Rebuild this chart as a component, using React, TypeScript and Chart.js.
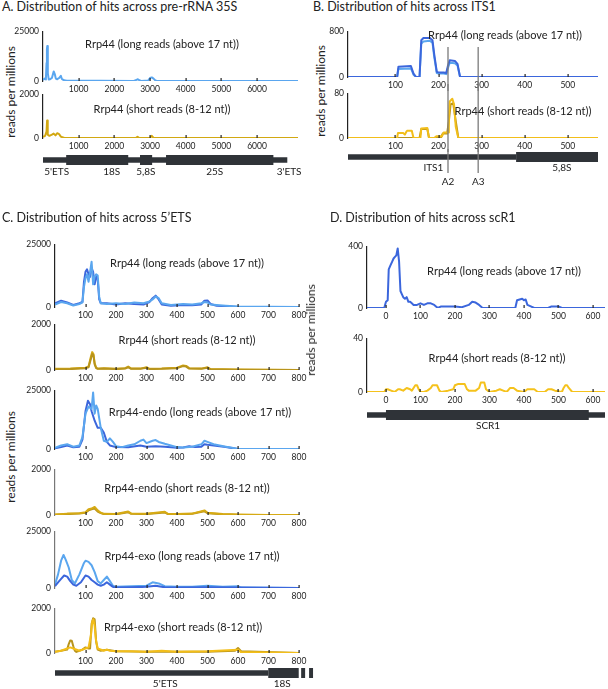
import React, { useEffect, useRef } from "react";
import { Chart, registerables } from "chart.js";
Chart.register(...registerables);

const FONT = "Lato, 'Open Sans', sans-serif";
const L = 40, T = 8, R = 14, B = 14;

// ---------- tick labels ----------
const A_TICKS = [1000, 2000, 3000, 4000, 5000, 6000];
const B_TICKS = [100, 200, 300, 400, 500];
const C_TICKS = [100, 200, 300, 400, 500, 600, 700, 800];
const D_TICKS = [0, 100, 200, 300, 400, 500, 600];

// ---------- Panel A: pre-rRNA 35S ----------
const A_LONG_X = [0, 40, 80, 100, 110, 120, 130, 140, 160, 200, 250, 300, 330, 360, 400, 450, 500, 530, 560, 600, 650, 2550, 2620, 2660, 2700, 2750, 2950, 3000, 3050, 3100, 3150, 3200, 7150];
const A_LONG_Y = [500, 1200, 800, 9000, 16000, 17500, 12000, 4000, 800, 900, 1500, 4800, 3500, 1200, 900, 1500, 2600, 1000, 600, 400, 200, 0, 600, 900, 400, 0, 200, 1500, 1800, 1200, 300, 0, 0];
const A_SHORT_X = [0, 60, 100, 115, 125, 140, 180, 250, 300, 350, 400, 450, 500, 600, 2600, 2650, 2700, 3000, 3050, 3100, 7150];
const A_SHORT_Y = [50, 100, 300, 800, 500, 150, 100, 150, 200, 120, 220, 180, 60, 0, 0, 60, 0, 0, 100, 0, 0];
const A_GENE_THIN = [0, 6850];
const A_GENE_THICK = [[650, 2390], [2720, 3060], [3450, 6460]];
const A_GENE_LABELS = ["5'ETS", "18S", "5,8S", "25S", "3'ETS"];
const A_GENE_LABEL_POS = [382, 1927, 2882, 4815, 6900];

// ---------- Panel B: ITS1 ----------
const B_LONG_DARK_X = [-10, 104, 107, 136, 142, 148, 156, 160, 165, 180, 186, 190, 196, 200, 212, 218, 222, 226, 238, 244, 250, 570];
const B_LONG_DARK_Y = [0, 0, 180, 190, 60, 0, 0, 640, 680, 680, 640, 400, 90, 80, 80, 70, 200, 290, 280, 230, 0, 0];
const B_LONG_LIGHT_X = [-10, 104, 107, 136, 142, 148, 156, 160, 165, 180, 186, 190, 196, 200, 212, 218, 222, 226, 238, 244, 250, 570];
const B_LONG_LIGHT_Y = [0, 0, 140, 150, 40, 0, 0, 580, 620, 630, 600, 350, 70, 60, 60, 50, 160, 250, 240, 200, 0, 0];
const B_SHORT_LIGHT_X = [-10, 104, 106, 118, 122, 126, 128, 138, 142, 158, 160, 174, 178, 190, 195, 208, 212, 222, 224, 226, 232, 236, 240, 246, 570];
const B_SHORT_LIGHT_Y = [0, 0, 9, 9, 6, 12, 13, 13, 0, 0, 17, 18, 0, 0, 3, 3, 10, 10, 40, 65, 70, 60, 20, 0, 0];
const B_SHORT_DARK_X = [-10, 156, 160, 174, 178, 205, 210, 220, 224, 228, 234, 240, 246, 570];
const B_SHORT_DARK_Y = [0, 0, 16, 16, 0, 0, 8, 8, 30, 60, 62, 30, 0, 0];
const B_SITES = [222, 292];
const B_SITE_LABELS = ["A2", "A3"];
const B_GENE_THIN = [-10, 380];
const B_GENE_THICK = [[380, 570]];
const B_GENE_LABELS = ["ITS1", "5,8S"];
const B_GENE_LABEL_POS = [188, 486];

// ---------- Panel C: 5'ETS ----------
const C1_DARK_X = [0, 20, 40, 60, 80, 90, 95, 100, 105, 110, 115, 120, 125, 130, 135, 140, 145, 150, 170, 200, 230, 260, 290, 310, 320, 330, 340, 350, 380, 420, 450, 480, 490, 500, 510, 530, 560, 600, 800];
const C1_DARK_Y = [1500, 2500, 1800, 800, 1500, 2000, 10000, 14000, 15000, 13000, 12000, 15500, 14000, 9000, 12000, 11000, 3000, 1500, 1500, 1000, 1500, 1200, 1000, 2000, 3500, 4500, 3000, 1000, 500, 800, 700, 1000, 2500, 2600, 1200, 500, 300, 0, 0];
const C1_LIGHT_X = [0, 20, 40, 60, 80, 90, 95, 100, 105, 110, 115, 120, 125, 130, 135, 140, 145, 150, 170, 200, 230, 260, 290, 310, 320, 330, 340, 350, 380, 420, 450, 480, 490, 500, 510, 530, 560, 600, 800];
const C1_LIGHT_Y = [1000, 2000, 1500, 600, 1200, 1800, 8000, 11500, 13000, 10000, 14000, 18000, 9000, 12000, 13000, 12500, 4000, 1500, 1200, 1500, 1200, 1800, 1500, 2200, 3000, 4200, 3500, 1500, 800, 1200, 1000, 1500, 2000, 1800, 1000, 800, 500, 200, 0];
const C2_X = [0, 50, 100, 110, 118, 122, 126, 130, 135, 140, 160, 200, 230, 240, 250, 280, 300, 310, 350, 400, 420, 430, 440, 480, 500, 510, 550, 600, 800];
const C2_Y = [50, 60, 100, 150, 600, 780, 700, 300, 100, 60, 80, 50, 80, 150, 60, 60, 120, 50, 60, 100, 200, 180, 80, 60, 120, 40, 30, 20, 0];
const C2_DARK_Y = [30, 40, 80, 120, 500, 700, 650, 250, 80, 50, 60, 40, 60, 120, 50, 50, 100, 40, 50, 80, 170, 150, 60, 50, 100, 30, 20, 10, 0];
const C3_LIGHT_X = [0, 20, 40, 60, 80, 90, 100, 110, 120, 125, 130, 135, 140, 150, 160, 170, 180, 190, 200, 220, 240, 260, 280, 290, 300, 320, 330, 340, 360, 380, 400, 420, 450, 480, 490, 500, 520, 540, 560, 580, 600, 800];
const C3_LIGHT_Y = [500, 1500, 2000, 1000, 1500, 5000, 15000, 18000, 17000, 24000, 15000, 18500, 17000, 9000, 3500, 3000, 4500, 3000, 1200, 800, 1500, 2000, 3500, 4000, 2500, 3500, 3800, 3000, 2200, 1500, 800, 600, 1000, 2000, 3500, 3000, 2000, 1500, 1000, 500, 0, 0];
const C3_DARK_X = [0, 20, 40, 60, 80, 90, 100, 108, 115, 120, 130, 140, 150, 160, 170, 180, 200, 240, 280, 300, 330, 360, 400, 420, 440, 460, 480, 490, 500, 520, 560, 600, 800];
const C3_DARK_Y = [300, 800, 1500, 700, 1000, 4000, 16000, 20500, 19000, 16000, 12000, 9000, 9000, 7000, 3000, 1500, 800, 700, 1500, 1000, 1200, 1000, 500, 600, 1200, 800, 1000, 2000, 1800, 1500, 800, 0, 0];
const C4_X = [0, 40, 80, 100, 110, 120, 130, 140, 150, 160, 200, 240, 250, 300, 360, 370, 400, 450, 490, 500, 550, 600, 700, 800];
const C4_Y = [20, 60, 80, 120, 250, 280, 350, 200, 100, 50, 40, 150, 60, 50, 140, 50, 40, 60, 200, 100, 40, 20, 0, 0];
const C4_DARK_Y = [10, 40, 60, 100, 200, 250, 280, 150, 80, 40, 30, 120, 50, 40, 110, 40, 30, 50, 160, 80, 30, 10, 0, 0];
const C5_LIGHT_X = [0, 10, 20, 28, 35, 45, 55, 65, 80, 95, 100, 110, 120, 130, 140, 150, 160, 170, 180, 190, 200, 250, 300, 320, 340, 360, 400, 450, 500, 550, 600, 610, 800];
const C5_LIGHT_Y = [1500, 6000, 12000, 14500, 12500, 9000, 3500, 2000, 6000, 11000, 12000, 11500, 10000, 7000, 3000, 2000, 3500, 5000, 3000, 1000, 500, 800, 1000, 2500, 2000, 800, 500, 600, 1000, 500, 800, 200, 0];
const C5_DARK_X = [0, 10, 20, 30, 40, 50, 60, 70, 85, 95, 100, 110, 120, 130, 140, 150, 160, 170, 180, 190, 200, 250, 300, 330, 360, 400, 500, 600, 800];
const C5_DARK_Y = [800, 2500, 4000, 5500, 5000, 3000, 1500, 1000, 2500, 4500, 5500, 5000, 3500, 2500, 1500, 1000, 1500, 2500, 1500, 500, 200, 300, 500, 1000, 300, 200, 300, 200, 0];
const C6_DARK_X = [0, 20, 40, 45, 50, 55, 60, 65, 70, 80, 90, 100, 110, 115, 120, 125, 130, 135, 140, 150, 170, 200, 300, 400, 500, 590, 600, 610, 800];
const C6_DARK_Y = [50, 100, 150, 400, 560, 550, 300, 100, 50, 100, 150, 250, 200, 200, 1300, 1550, 1500, 500, 150, 100, 150, 80, 60, 60, 60, 100, 220, 80, 0];
const C6_LIGHT_X = [0, 20, 40, 50, 60, 80, 100, 110, 118, 122, 126, 130, 134, 140, 160, 170, 180, 200, 250, 300, 350, 400, 500, 600, 610, 800];
const C6_LIGHT_Y = [50, 100, 200, 250, 200, 100, 200, 250, 800, 1400, 1500, 1200, 600, 200, 100, 150, 100, 80, 80, 60, 100, 60, 80, 150, 40, 0];
const C_GENE_THIN = [0, 700];
const C_GENE_THICK = [[700, 800], [808, 821], [834, 847]];
const C_GENE_LABELS = ["5'ETS", "18S"];
const C_GENE_LABEL_POS = [362, 746];

// ---------- Panel D: scR1 ----------
const D_LONG_X = [-55, -5, 0, 5, 8, 12, 18, 22, 26, 30, 34, 38, 42, 46, 50, 55, 60, 65, 70, 75, 80, 90, 100, 110, 120, 130, 140, 150, 160, 180, 200, 220, 240, 250, 260, 270, 280, 300, 360, 375, 380, 395, 400, 405, 410, 420, 430, 470, 480, 500, 510, 635];
const D_LONG_Y = [0, 0, 40, 50, 250, 270, 300, 320, 330, 340, 385, 300, 110, 90, 70, 60, 70, 40, 40, 30, 20, 20, 30, 20, 30, 30, 20, 0, 10, 10, 10, 5, 20, 40, 35, 20, 0, 0, 0, 0, 50, 60, 50, 55, 20, 10, 0, 0, 10, 10, 0, 0];
const D_SHORT_X = [-55, -5, 0, 5, 15, 25, 35, 40, 50, 60, 70, 75, 80, 85, 90, 95, 100, 110, 120, 130, 135, 140, 148, 155, 160, 180, 195, 200, 210, 220, 228, 235, 240, 260, 270, 275, 280, 285, 290, 300, 320, 330, 340, 350, 360, 365, 370, 380, 400, 410, 420, 430, 440, 460, 470, 480, 490, 510, 515, 520, 525, 530, 540, 560, 635];
const D_SHORT_Y = [0, 0, 2, 2, 1, 0, 2, 2, 1, 3, 2, 1, 3, 5, 5, 2, 0, 0, 1, 3, 5, 5, 5, 1, 0, 1, 2, 5, 6, 6, 6, 2, 1, 1, 3, 7, 7, 7, 2, 0, 1, 2, 1, 0, 3, 3, 3, 1, 0, 2, 2, 2, 0, 0, 2, 2, 1, 0, 3, 5, 5, 3, 0, 0, 0];
const D_GENE_THIN = [-55, 635];
const D_GENE_THICK = [[0, 588]];
const D_GENE_LABELS = ["SCR1"];
const D_GENE_LABEL_POS = [296];

// ---------- colours ----------
const BLUE_D = "#3b66dc";
const BLUE_L = "#5aa6ef";
const GOLD_D = "#b8941c";
const GOLD_L = "#f2be1a";
const GENE = "#2f3338";

type Series = { xs: number[]; ys: number[]; color: string; width?: number };

const zip = (xs: number[], ys: (number | null)[]) => xs.map((x, i) => ({ x, y: ys[i] }));

function Plot(props: {
  x0: number; x1: number; y0: number; y1: number;
  xMin: number; xMax: number; xTicks: number[]; yMax: number;
  series: Series[]; vlines?: number[]; vTop?: number; vBot?: number; axisColor?: string;
}) {
  const { x0, x1, y0, y1, xMin, xMax, xTicks, yMax, series, vlines, vTop, vBot, axisColor } = props;
  const ref = useRef<HTMLCanvasElement>(null);
  const w = Math.round(x1 - x0 + L + R);
  const h = Math.round(y1 - y0 + T + B);
  const left = Math.round(x0 - L);
  const top = Math.round(y0 - T);
  useEffect(() => {
    const tickMarks = {
      id: "tickMarks",
      afterDatasetsDraw(chart: any) {
        const ctx = chart.ctx;
        const xs = chart.scales.x;
        const zy = chart.scales.y.getPixelForValue(0);
        ctx.save();
        ctx.fillStyle = "#222";
        xTicks.forEach((v) => {
          const px = xs.getPixelForValue(v);
          ctx.fillRect(Math.round(px) - 0.5, zy - 3, 1.2, 3);
        });
        ctx.restore();
      },
    };
    const vlinePlugin = {
      id: "vlines",
      afterDraw(chart: any) {
        if (!vlines) return;
        const ctx = chart.ctx;
        const xs = chart.scales.x;
        ctx.save();
        ctx.strokeStyle = "#7a7a7a";
        ctx.lineWidth = 1.3;
        vlines.forEach((v) => {
          const px = xs.getPixelForValue(v);
          ctx.beginPath();
          ctx.moveTo(px, Math.max(0, (vTop ?? 0) - top));
          ctx.lineTo(px, Math.min(h, (vBot ?? 9999) - top));
          ctx.stroke();
        });
        ctx.restore();
      },
    };
    const tickFont = { family: FONT, size: 8.5 };
    const chart = new Chart(ref.current as HTMLCanvasElement, {
      type: "line",
      data: {
        datasets: series.map((s) => ({
          data: zip(s.xs, s.ys),
          borderColor: s.color,
          borderWidth: s.width ?? 2,
          pointRadius: 0,
          fill: false,
          tension: 0,
          borderJoinStyle: "round",
        })),
      },
      options: {
        responsive: false,
        animation: false,
        devicePixelRatio: 1,
        parsing: false,
        layout: { padding: { top: T, right: R, left: 0, bottom: 0 } },
        plugins: { legend: { display: false }, tooltip: { enabled: false } },
        scales: {
          x: {
            type: "linear",
            min: xMin,
            max: xMax,
            afterBuildTicks: (a: any) => { a.ticks = xTicks.map((v) => ({ value: v })); },
            afterFit: (a: any) => { a.height = B; },
            grid: { display: false, drawTicks: false },
            border: { display: false },
            ticks: { font: tickFont, color: "#222", padding: 3, maxRotation: 0, autoSkip: false, callback: (v: any) => String(v) },
          },
          y: {
            type: "linear",
            min: 0,
            max: yMax,
            afterBuildTicks: (a: any) => { a.ticks = [{ value: 0 }, { value: yMax }]; },
            afterFit: (a: any) => { a.width = L; },
            grid: { display: false, drawTicks: false },
            border: { color: axisColor ?? "#222", width: 1.2 },
            ticks: { font: tickFont, color: "#222", padding: 4, callback: (v: any) => String(v) },
          },
        },
      } as any,
      plugins: [tickMarks, vlinePlugin],
    });
    return () => chart.destroy();
  }, []);
  return (
    <canvas
      ref={ref}
      width={w}
      height={h}
      style={{ position: "absolute", left, top, width: w, height: h }}
    />
  );
}

function Gene(props: {
  x0: number; x1: number; y: number; xMin: number; xMax: number;
  thin: number[]; thick: number[][]; labels: string[]; labelPos: number[]; labelDy: number;
  vlines?: number[]; vlineLabels?: string[]; vBot?: number;
}) {
  const { x0, x1, y, xMin, xMax, thin, thick, labels, labelPos, labelDy, vlines, vlineLabels, vBot } = props;
  const ref = useRef<HTMLCanvasElement>(null);
  const H = 44;
  const w = Math.round(x1 - x0 + L + R);
  const left = Math.round(x0 - L);
  const top = Math.round(y - 8);
  useEffect(() => {
    const thickData: { x: number; y: number | null }[] = [];
    thick.forEach(([s, e]) => {
      thickData.push({ x: s, y: 0 }, { x: e, y: 0 }, { x: e, y: null });
    });
    const textPlugin = {
      id: "geneText",
      afterDraw(chart: any) {
        const ctx = chart.ctx;
        const xs = chart.scales.x;
        const zy = chart.scales.y.getPixelForValue(0);
        ctx.save();
        if (vlines) {
          ctx.strokeStyle = "#7a7a7a";
          ctx.lineWidth = 1.3;
          vlines.forEach((v) => {
            const px = xs.getPixelForValue(v);
            ctx.beginPath();
            ctx.moveTo(px, 0);
            ctx.lineTo(px, (vBot ?? 0) - top);
            ctx.stroke();
          });
        }
        ctx.fillStyle = "#222";
        ctx.font = `10px ${FONT}`;
        ctx.textAlign = "center";
        ctx.textBaseline = "middle";
        labels.forEach((t, i) => {
          ctx.fillText(t, xs.getPixelForValue(labelPos[i]), zy + labelDy);
        });
        if (vlines && vlineLabels) {
          vlines.forEach((v, i) => {
            ctx.fillText(vlineLabels[i], xs.getPixelForValue(v), (vBot ?? 0) - top + 9);
          });
        }
        ctx.restore();
      },
    };
    const chart = new Chart(ref.current as HTMLCanvasElement, {
      type: "line",
      data: {
        datasets: [
          { data: thickData, borderColor: GENE, borderWidth: 10, pointRadius: 0, spanGaps: false, borderCapStyle: "butt" },
          { data: [{ x: thin[0], y: 0 }, { x: thin[1], y: 0 }], borderColor: GENE, borderWidth: 5.5, pointRadius: 0, borderCapStyle: "butt" },
        ],
      },
      options: {
        responsive: false,
        animation: false,
        devicePixelRatio: 1,
        parsing: false,
        layout: { padding: { top: 0, right: R, left: L, bottom: 0 } },
        plugins: { legend: { display: false }, tooltip: { enabled: false } },
        scales: {
          x: { type: "linear", min: xMin, max: xMax, display: false },
          y: { type: "linear", min: -(H - 8) / 8, max: 1, display: false },
        },
      } as any,
      plugins: [textPlugin],
    });
    return () => chart.destroy();
  }, []);
  return (
    <canvas
      ref={ref}
      width={w}
      height={H}
      style={{ position: "absolute", left, top, width: w, height: H }}
    />
  );
}

function Txt(props: { x: number; y: number; children: React.ReactNode; size?: number; align?: "left" | "center"; rotate?: boolean }) {
  const { x, y, children, size = 11, align = "center", rotate } = props;
  const tf = rotate
    ? "translate(-50%, -50%) rotate(-90deg)"
    : align === "center" ? "translate(-50%, -50%)" : "translate(0, -50%)";
  return (
    <div
      style={{
        position: "absolute",
        left: x,
        top: y,
        transform: tf,
        whiteSpace: "nowrap",
        fontFamily: FONT,
        fontSize: size,
        color: "#222",
        lineHeight: 1,
      }}
    >
      {children}
    </div>
  );
}

export default function App() {
  const AX0 = 43, AX1 = 298;
  const BX0 = 348, BX1 = 598;
  const CX0 = 55, CX1 = 299;
  const DX0 = 367, DX1 = 605;
  const cGeneMax = C_GENE_THICK[2][1] + 13;
  const cGeneX1 = CX0 + (cGeneMax / 800) * (CX1 - CX0);
  const TS = 12.5, YS = 12;
  return (
    <div style={{ position: "absolute", left: 0, top: 0, width: 608, height: 689, background: "#fff", overflow: "hidden" }}>
      {/* Panel A */}
      <Txt x={2} y={7} size={TS} align="left">A. Distribution of hits across pre-rRNA 35S</Txt>
      <Txt x={11} y={92} size={YS} rotate>reads per millions</Txt>
      <Plot x0={AX0} x1={AX1} y0={30} y1={81} xMin={0} xMax={7150} xTicks={A_TICKS} yMax={25000}
        series={[{ xs: A_LONG_X, ys: A_LONG_Y, color: BLUE_L }]} />
      <Plot x0={AX0} x1={AX1} y0={93} y1={138} xMin={0} xMax={7150} xTicks={A_TICKS} yMax={2000}
        series={[{ xs: A_SHORT_X, ys: A_SHORT_Y, color: "#d2a812" }]} />
      <Txt x={162} y={43}>Rrp44 (long reads (above 17 nt))</Txt>
      <Txt x={162} y={108}>Rrp44 (short reads (8-12 nt))</Txt>
      <Gene x0={AX0} x1={AX1} y={160} xMin={0} xMax={7150} thin={A_GENE_THIN} thick={A_GENE_THICK}
        labels={A_GENE_LABELS} labelPos={A_GENE_LABEL_POS} labelDy={12} />

      {/* Panel B */}
      <Txt x={313} y={7} size={TS} align="left">B. Distribution of hits across ITS1</Txt>
      <Txt x={321} y={91} size={YS} rotate>reads per millions</Txt>
      <Plot x0={BX0} x1={BX1} y0={30} y1={77} xMin={-10} xMax={570} xTicks={B_TICKS} yMax={800}
        series={[{ xs: B_LONG_DARK_X, ys: B_LONG_DARK_Y, color: BLUE_D }, { xs: B_LONG_LIGHT_X, ys: B_LONG_LIGHT_Y, color: BLUE_L }]}
        vlines={B_SITES} vTop={47} vBot={200} />
      <Plot x0={BX0} x1={BX1} y0={92} y1={138} xMin={-10} xMax={570} xTicks={B_TICKS} yMax={80}
        series={[{ xs: B_SHORT_LIGHT_X, ys: B_SHORT_LIGHT_Y, color: GOLD_L }, { xs: B_SHORT_DARK_X, ys: B_SHORT_DARK_Y, color: GOLD_D }]}
        vlines={B_SITES} vTop={0} vBot={200} />
      <Txt x={505} y={34}>Rrp44 (long reads (above 17 nt))</Txt>
      <Txt x={523} y={110}>Rrp44 (short reads (8-12 nt))</Txt>
      <Gene x0={BX0} x1={BX1} y={157} xMin={-10} xMax={570} thin={B_GENE_THIN} thick={B_GENE_THICK}
        labels={B_GENE_LABELS} labelPos={B_GENE_LABEL_POS} labelDy={11}
        vlines={B_SITES} vlineLabels={B_SITE_LABELS} vBot={173} />

      {/* Panel C */}
      <Txt x={2} y={218} size={TS} align="left">C. Distribution of hits across 5’ETS</Txt>
      <Txt x={11} y={457} size={YS} rotate>reads per millions</Txt>
      <Plot x0={CX0} x1={CX1} y0={243} y1={307} xMin={0} xMax={800} xTicks={C_TICKS} yMax={25000}
        series={[{ xs: C1_LIGHT_X, ys: C1_LIGHT_Y, color: BLUE_L }, { xs: C1_DARK_X, ys: C1_DARK_Y, color: BLUE_D }]} />
      <Plot x0={CX0} x1={CX1} y0={323} y1={370} xMin={0} xMax={800} xTicks={C_TICKS} yMax={2000}
        series={[{ xs: C2_X, ys: C2_DARK_Y, color: GOLD_D }, { xs: C2_X, ys: C2_Y, color: "#d6aa14" }]} />
      <Plot x0={CX0} x1={CX1} y0={389} y1={449} xMin={0} xMax={800} xTicks={C_TICKS} yMax={25000}
        series={[{ xs: C3_LIGHT_X, ys: C3_LIGHT_Y, color: BLUE_L }, { xs: C3_DARK_X, ys: C3_DARK_Y, color: BLUE_D }]} />
      <Plot x0={CX0} x1={CX1} y0={468} y1={515} xMin={0} xMax={800} xTicks={C_TICKS} yMax={2000} axisColor="#777"
        series={[{ xs: C4_X, ys: C4_Y, color: "#d6aa14" }, { xs: C4_X, ys: C4_DARK_Y, color: GOLD_D }]} />
      <Plot x0={CX0} x1={CX1} y0={530} y1={588} xMin={0} xMax={800} xTicks={C_TICKS} yMax={25000} axisColor="#777"
        series={[{ xs: C5_DARK_X, ys: C5_DARK_Y, color: BLUE_D }, { xs: C5_LIGHT_X, ys: C5_LIGHT_Y, color: BLUE_L }]} />
      <Plot x0={CX0} x1={CX1} y0={607} y1={653} xMin={0} xMax={800} xTicks={C_TICKS} yMax={2000} axisColor="#777"
        series={[{ xs: C6_LIGHT_X, ys: C6_LIGHT_Y, color: GOLD_L }, { xs: C6_DARK_X, ys: C6_DARK_Y, color: GOLD_D }]} />
      <Txt x={187} y={262}>Rrp44 (long reads (above 17 nt))</Txt>
      <Txt x={187} y={339}>Rrp44 (short reads (8-12 nt))</Txt>
      <Txt x={200} y={411}>Rrp44-endo (long reads (above 17 nt))</Txt>
      <Txt x={187} y={487}>Rrp44-endo (short reads (8-12 nt))</Txt>
      <Txt x={192} y={555}>Rrp44-exo (long reads (above 17 nt))</Txt>
      <Txt x={183} y={626}>Rrp44-exo (short reads (8-12 nt))</Txt>
      <Gene x0={CX0} x1={cGeneX1} y={673} xMin={0} xMax={cGeneMax} thin={C_GENE_THIN} thick={C_GENE_THICK}
        labels={C_GENE_LABELS} labelPos={C_GENE_LABEL_POS} labelDy={11} />

      {/* Panel D */}
      <Txt x={330} y={218} size={TS} align="left">D. Distribution of hits across scR1</Txt>
      <Txt x={311} y={330} size={YS} rotate>reads per millions</Txt>
      <Plot x0={DX0} x1={DX1} y0={245} y1={308} xMin={-55} xMax={635} xTicks={D_TICKS} yMax={400}
        series={[{ xs: D_LONG_X, ys: D_LONG_Y, color: BLUE_D }]} />
      <Plot x0={DX0} x1={DX1} y0={337} y1={392} xMin={-55} xMax={635} xTicks={D_TICKS} yMax={40}
        series={[{ xs: D_SHORT_X, ys: D_SHORT_Y, color: "#f5c21c" }]} />
      <Txt x={504} y={270}>Rrp44 (long reads (above 17 nt))</Txt>
      <Txt x={497} y={357}>Rrp44 (short reads (8-12 nt))</Txt>
      <Gene x0={DX0} x1={DX1} y={415} xMin={-55} xMax={635} thin={D_GENE_THIN} thick={D_GENE_THICK}
        labels={D_GENE_LABELS} labelPos={D_GENE_LABEL_POS} labelDy={11} />
    </div>
  );
}
